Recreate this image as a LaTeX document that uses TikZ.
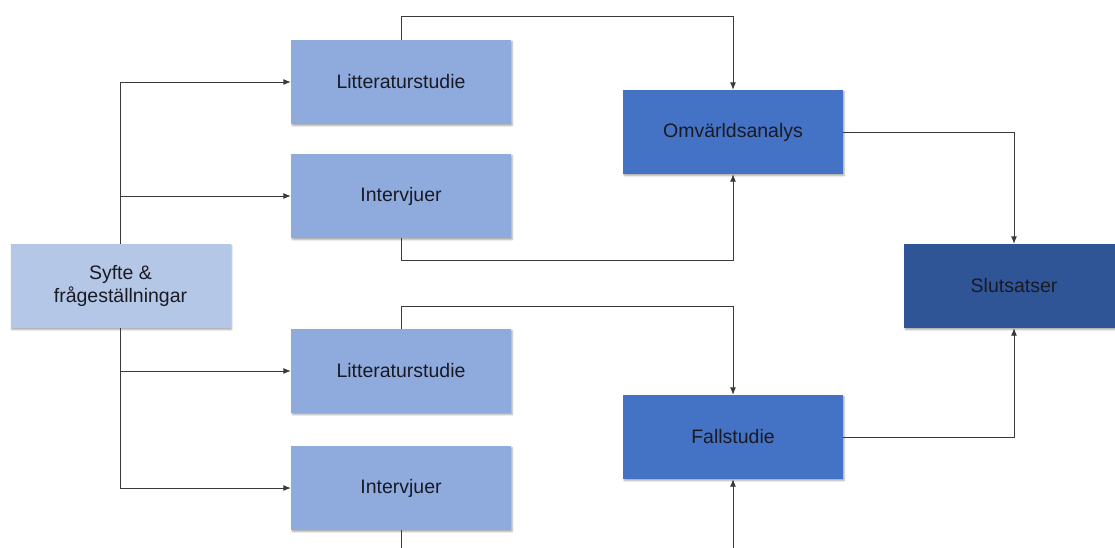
\documentclass[tikz,border=0pt]{standalone}
\usepackage{fontspec}
\setmainfont{Liberation Sans}
\usetikzlibrary{arrows.meta,shadows.blur}

\definecolor{paleblue}{HTML}{B4C7E7}
\definecolor{midblue}{HTML}{8FAADC}
\definecolor{strongblue}{HTML}{4472C4}
\definecolor{deepblue}{HTML}{2F5597}
\definecolor{linegray}{HTML}{3A3A3A}
\definecolor{textdark}{HTML}{1A1A24}

\tikzset{
  box/.style={rectangle, minimum width=220pt, minimum height=84pt, inner sep=0pt,
    align=center, text=textdark, font=\fontsize{19.5}{23.5}\selectfont,
    blur shadow={shadow xshift=1.2pt, shadow yshift=-1.6pt, shadow blur steps=4,
      shadow blur radius=1.6pt, shadow opacity=35}},
  startbox/.style={box, fill=paleblue},
  methodbox/.style={box, fill=midblue},
  analysisbox/.style={box, fill=strongblue},
  resultbox/.style={box, fill=deepblue},
  link/.style={draw=linegray, line width=0.9pt},
  arrowlink/.style={link, -{Latex[length=7.5pt,width=6pt]}},
}

\begin{document}
\begin{tikzpicture}[x=1pt,y=-1pt]
  \useasboundingbox (0,0) rectangle (1115,547);
  \clip (0,0) rectangle (1115,547);

  % boxes
  \node[startbox]    (syfte)  at (120.5,286) {Syfte \&\\frågeställningar};
  \node[methodbox]   (litA)   at (401,82)  {Litteraturstudie};
  \node[methodbox]   (intA)   at (401,196) {Intervjuer};
  \node[methodbox]   (litB)   at (401,371) {Litteraturstudie};
  \node[methodbox]   (intB)   at (401,488) {Intervjuer};
  \node[analysisbox] (omv)    at (733,132) {Omvärldsanalys};
  \node[analysisbox] (fall)   at (733,437) {Fallstudie};
  \node[resultbox]   (slut)   at (1014,286) {Slutsatser};

  % loose ends running off the bottom edge
  \coordinate (intBout) at (401,548);
  \coordinate (fallin)  at (733,548);

  % from the research question to the four methods
  \draw[arrowlink] (syfte.north) |- (litA.west);
  \draw[arrowlink] (syfte.north) |- (intA.west);
  \draw[arrowlink] (syfte.south) |- (litB.west);
  \draw[arrowlink] (syfte.south) |- (intB.west);

  % methods feeding the environmental analysis
  \draw[arrowlink] (litA.north) -- ++(0,-23.5) -| (omv.north);
  \draw[arrowlink] (intA.south) -- ++(0,22) -| (omv.south);

  % methods feeding the case study
  \draw[arrowlink] (litB.north) -- ++(0,-22) -| (fall.north);
  \draw[link] (intB.south) -- (intBout);
  \draw[arrowlink] (fallin) -- (fall.south);

  % analyses leading to the conclusions
  \draw[arrowlink] (omv.east) -| (slut.north);
  \draw[arrowlink] (fall.east) -| (slut.south);
\end{tikzpicture}
\end{document}
